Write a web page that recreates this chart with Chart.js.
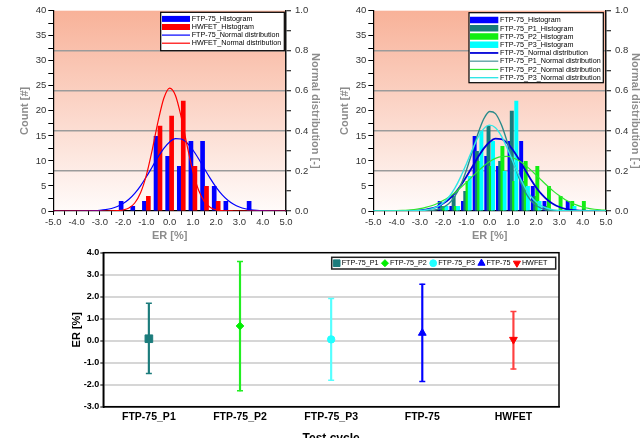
<!DOCTYPE html>
<html>
<head>
<meta charset="utf-8">
<script src="https://cdn.jsdelivr.net/npm/chart.js@4.4.1/dist/chart.umd.min.js"></script>
<style>
html,body{margin:0;padding:0;background:#fff;width:644px;height:438px;overflow:hidden;}
canvas{position:absolute;display:block;}
</style>
</head>
<body>
<canvas id="c1" width="322" height="243" style="left:0;top:0"></canvas>
<canvas id="c2" width="322" height="243" style="left:320px;top:0"></canvas>
<canvas id="c3" width="644" height="206" style="left:0;top:240px"></canvas>
<script>
Chart.defaults.font.family = '"Liberation Sans", Arial, Helvetica, sans-serif';

// ---------------- DATA ----------------
// Histogram bins (ER [%])
const binCenters   = [-2.0, -1.5, -1.0, -0.5, 0.0, 0.5, 1.0, 1.5, 2.0, 2.5, 3.0, 3.5, 4.0];
const countFTP75   = [2, 1, 2, 15, 11, 9, 14, 14, 5, 2, 0, 2, 0];
const countHWFET   = [0, 0, 3, 17, 19, 22, 9, 5, 2, 0, 0, 0, 0];
const countFTP75P1 = [1, 3, 4, 12, 17, 10, 20, 6, 3, 1, 0, 0, 0];
const countFTP75P2 = [1, 1, 6, 10, 9, 13, 6, 10, 9, 5, 3, 2, 2];
const countFTP75P3 = [1, 1, 7, 16, 14, 8, 22, 5, 2, 0, 0, 1, 0];

// Normal distribution curves at ER steps of 0.25
const pdfX = [-5, -4.75, -4.5, -4.25, -4, -3.75, -3.5, -3.25, -3, -2.75, -2.5, -2.25, -2, -1.75, -1.5, -1.25, -1, -0.75, -0.5, -0.25,
              0, 0.25, 0.5, 0.75, 1, 1.25, 1.5, 1.75, 2, 2.25, 2.5, 2.75, 3, 3.25, 3.5, 3.75, 4, 4.25, 4.5, 4.75, 5];
const pdfFTP75 = [0, 0, 0, 0.0001, 0.0001, 0.0003, 0.0008, 0.0017, 0.0035, 0.0068, 0.0126, 0.0222, 0.0370, 0.0587, 0.0882, 0.1259, 0.1708, 0.2200, 0.2691, 0.3126,
                  0.3448, 0.3612, 0.3593, 0.3395, 0.3046, 0.2595, 0.2100, 0.1614, 0.1178, 0.0816, 0.0537, 0.0336, 0.0199, 0.0112, 0.0060, 0.0031, 0.0015, 0.0007, 0.0003, 0.0001, 0];
const pdfHWFET = [0, 0, 0, 0, 0, 0, 0, 0, 0, 0.0001, 0.0003, 0.0014, 0.0049, 0.0151, 0.0399, 0.0910, 0.1792, 0.3043, 0.4457, 0.5630,
                  0.6135, 0.5765, 0.4673, 0.3267, 0.1970, 0.1024, 0.0459, 0.0178, 0.0059, 0.0017, 0.0004, 0.0001, 0, 0, 0, 0, 0, 0, 0, 0, 0];
const pdfP1    = [0, 0, 0, 0, 0, 0, 0, 0.0001, 0.0003, 0.0010, 0.0029, 0.0074, 0.0175, 0.0375, 0.0727, 0.1279, 0.2039, 0.2949, 0.3869, 0.4604,
                  0.4968, 0.4862, 0.4316, 0.3475, 0.2537, 0.1681, 0.1009, 0.0550, 0.0272, 0.0122, 0.0049, 0.0018, 0.0006, 0.0002, 0.0001, 0, 0, 0, 0, 0, 0];
const pdfP2    = [0.0001, 0.0003, 0.0005, 0.0010, 0.0017, 0.0028, 0.0047, 0.0076, 0.0118, 0.0179, 0.0263, 0.0375, 0.0520, 0.0700, 0.0914, 0.1161, 0.1431, 0.1714, 0.1992, 0.2250,
                  0.2467, 0.2626, 0.2716, 0.2727, 0.2659, 0.2518, 0.2315, 0.2068, 0.1793, 0.1510, 0.1235, 0.0981, 0.0756, 0.0566, 0.0412, 0.0291, 0.0200, 0.0133, 0.0086, 0.0054, 0.0033];
const pdfP3    = [0, 0, 0, 0, 0, 0.0001, 0.0003, 0.0009, 0.0022, 0.0051, 0.0109, 0.0218, 0.0405, 0.0701, 0.1128, 0.1689, 0.2351, 0.3045, 0.3669, 0.4113,
                  0.4289, 0.4161, 0.3755, 0.3153, 0.2462, 0.1789, 0.1209, 0.0761, 0.0445, 0.0242, 0.0123, 0.0058, 0.0025, 0.0010, 0.0004, 0.0001, 0, 0, 0, 0, 0];

// Error-bar chart
const cycles = ['FTP-75_P1', 'FTP-75_P2', 'FTP-75_P3', 'FTP-75', 'HWFET'];
const erMean = [0.09, 0.67, 0.06, 0.35, 0.05];
const erLow  = [-1.49, -2.28, -1.80, -1.86, -1.29];
const erHigh = [1.70, 3.60, 1.92, 2.57, 1.33];

// ---------------- STYLE ----------------
const C_BLUE = '#0000ff', C_RED = '#ff0000', C_TEAL = '#177a7a', C_GREEN = '#11ee11', C_CYAN = '#00ffff';
const GRAD_TOP = '#f8b299', GRAD_BOTTOM = '#fffbfa';
const TITLE_GRAY = '#8c8c8c';

function pts(xs, ys) { return xs.map((x, i) => ({x: x, y: ys[i]})); }

// ---------------- PLUGINS ----------------
const bgGrad = {
  id: 'bgGrad',
  beforeDraw(chart) {
    if (!chart.$grad) return;
    const {ctx, chartArea: a} = chart;
    const g = ctx.createLinearGradient(0, a.top, 0, a.bottom);
    g.addColorStop(0, GRAD_TOP);
    g.addColorStop(1, GRAD_BOTTOM);
    ctx.save();
    ctx.fillStyle = g;
    ctx.fillRect(a.left, a.top, a.right - a.left, a.bottom - a.top);
    ctx.restore();
  }
};
// draw datasets in index order (later datasets on top)
const forwardDraw = {
  id: 'forwardDraw',
  beforeDatasetsDraw(chart) {
    const metas = chart.getSortedVisibleDatasetMetas();
    for (const m of metas) {
      if (chart._drawDataset) chart._drawDataset(m); else m.controller.draw();
    }
    return false;
  }
};
function makeBoxLegend(g) {
  return {
    id: 'boxLegend',
    afterDraw(chart) {
      const ctx = chart.ctx;
      ctx.save();
      ctx.fillStyle = '#fff';
      ctx.fillRect(g.x, g.y, g.w, g.h);
      ctx.strokeStyle = '#000';
      ctx.lineWidth = 1.2;
      ctx.strokeRect(g.x, g.y, g.w, g.h);
      ctx.font = g.font + 'px ' + Chart.defaults.font.family;
      ctx.textBaseline = 'middle';
      ctx.textAlign = 'left';
      chart.data.datasets.forEach((ds, i) => {
        const cy = g.rowY + i * g.rowStep;
        if (ds.type === 'bar') {
          ctx.fillStyle = ds.backgroundColor;
          ctx.fillRect(g.swX, cy - g.barH / 2, g.swW, g.barH);
        } else {
          ctx.strokeStyle = ds.legendColor || ds.borderColor;
          ctx.lineWidth = ds.borderWidth;
          ctx.beginPath();
          ctx.moveTo(g.swX, cy);
          ctx.lineTo(g.swX + g.swW, cy);
          ctx.stroke();
        }
        ctx.fillStyle = '#000';
        ctx.fillText(ds.label, g.textX, cy + 0.3);
      });
      ctx.restore();
    }
  };
}

// ---------------- HISTOGRAM CHARTS ----------------
function histOptions() {
  return {
    responsive: false,
    animation: false,
    layout: {padding: {left: 0, right: 0, top: 10.7, bottom: 0}},
    plugins: {legend: {display: false}, tooltip: {enabled: false}},
    scales: {
      x: {
        type: 'linear', min: -5, max: 5, offset: false,
        grid: {offset: false, drawOnChartArea: false, tickLength: 4, tickColor: '#000', tickWidth: 1},
        border: {color: '#000', width: 1.2},
        ticks: {stepSize: 0.5, autoSkip: false, maxRotation: 0, minRotation: 0, padding: 2, color: '#333', font: {size: 9.5},
          callback: (v) => Number.isInteger(v) ? v.toFixed(1) : ''},
        title: {display: true, text: 'ER [%]', color: TITLE_GRAY, font: {size: 11, weight: 'bold'}, padding: {top: 0, bottom: 0}},
        afterFit: (s) => { s.height = 32; }
      },
      y: {
        position: 'left', min: 0, max: 40,
        grid: {drawOnChartArea: false, tickLength: 5, tickColor: '#000', tickWidth: 1},
        border: {color: '#000', width: 1.2},
        ticks: {stepSize: 2.5, autoSkip: false, padding: 2, color: '#333', font: {size: 9.5},
          callback: (v) => (v % 5 === 0) ? String(v) : ''},
        title: {display: true, text: 'Count [#]', color: TITLE_GRAY, font: {size: 11, weight: 'bold'}, padding: {top: 18.4, bottom: 0}},
        afterFit: (s) => { s.width = 53.3; }
      },
      y2: {
        position: 'right', min: 0, max: 1,
        grid: {
          drawOnChartArea: true, lineWidth: 1.5, tickLength: 5, tickColor: '#000', tickWidth: 1,
          color: (c) => {
            if (!c.tick) return 'rgba(0,0,0,0)';
            const k = Math.round(c.tick.value * 10);
            return (k % 2 === 0 && k > 0 && k < 10) ? '#9b9b9b' : 'rgba(0,0,0,0)';
          }
        },
        border: {color: '#111', width: 1.5},
        ticks: {stepSize: 0.1, autoSkip: false, padding: 4, color: '#333', font: {size: 9.5},
          callback: (v) => (Math.round(v * 10) % 2 === 0) ? v.toFixed(1) : ''},
        title: {display: true, text: 'Normal distribution [-]', color: TITLE_GRAY, font: {size: 11, weight: 'bold'}, padding: {top: 0, bottom: 0}},
        afterFit: (s) => { s.width = 36; }
      }
    }
  };
}
function barDs(label, counts, color, catPct, barPct) {
  return {type: 'bar', label: label, data: pts(binCenters, counts), backgroundColor: color, yAxisID: 'y',
          categoryPercentage: catPct, barPercentage: barPct, borderWidth: 0};
}
function lineDs(label, ys, color, width, legendColor) {
  return {type: 'line', label: label, data: pts(pdfX, ys), borderColor: color, legendColor: legendColor, borderWidth: width,
          yAxisID: 'y2', pointRadius: 0, fill: false, cubicInterpolationMode: 'monotone'};
}

const ch1 = new Chart(document.getElementById('c1'), {
  type: 'bar',
  data: {datasets: [
    barDs('FTP-75_Histogram', countFTP75, C_BLUE, 0.68, 1.18),
    barDs('HWFET_Histogram', countHWFET, C_RED, 0.68, 1.18),
    lineDs('FTP-75_Normal distribution', pdfFTP75, C_BLUE, 1.2),
    lineDs('HWFET_Normal distribution', pdfHWFET, C_RED, 1.2)
  ]},
  options: histOptions(),
  plugins: [
    {id: 'gradOn', beforeInit(c) { c.$grad = true; }},
    bgGrad, forwardDraw,
    makeBoxLegend({x: 160.7, y: 12.3, w: 123.6, h: 38.4, swX: 162, swW: 28, textX: 191.7, rowY: 18.9, rowStep: 8.1, barH: 6, font: 7.2})
  ]
});

const ch2 = new Chart(document.getElementById('c2'), {
  type: 'bar',
  data: {datasets: [
    barDs('FTP-75_Histogram', countFTP75, C_BLUE, 0.774, 1.75),
    barDs('FTP-75_P1_Histogram', countFTP75P1, C_TEAL, 0.774, 1.75),
    barDs('FTP-75_P2_Histogram', countFTP75P2, C_GREEN, 0.774, 1.75),
    barDs('FTP-75_P3_Histogram', countFTP75P3, C_CYAN, 0.774, 1.75),
    lineDs('FTP-75_Normal distribution', pdfFTP75, '#0000d8', 1.8),
    lineDs('FTP-75_P1_Normal distribution', pdfP1, '#2a8a8a', 1.4, '#5fa3a3'),
    lineDs('FTP-75_P2_Normal distribution', pdfP2, '#2ee62e', 1.2),
    lineDs('FTP-75_P3_Normal distribution', pdfP3, '#30e6e6', 1.4)
  ]},
  options: histOptions(),
  plugins: [
    {id: 'gradOn', beforeInit(c) { c.$grad = true; }},
    bgGrad, forwardDraw,
    makeBoxLegend({x: 149, y: 12.7, w: 134.3, h: 70, swX: 150, swW: 28.3, textX: 180, rowY: 20, rowStep: 8.24, barH: 6.5, font: 7.2})
  ]
});

// ---------------- ERROR BAR CHART ----------------
const erLineColors   = ['#1c7c7c', '#22ee22', '#55ffff', '#0000ff', '#ff4040'];
const erMarkColors   = ['#1c7c7c', '#00ee00', '#22ffff', '#0000ff', '#ff0000'];
const erMarkStyles   = ['rect', 'rectRot', 'circle', 'triangle', 'triangle'];
const erMarkRotation = [0, 0, 0, 0, 180];
const erMarkRadius   = [5.4, 3.8, 3.7, 4.5, 4.5];
const legRadius      = [4.7, 3.5, 3.4, 4.1, 4.1];

const frame3 = {
  id: 'frame3',
  afterDraw(chart) {
    const {ctx, chartArea: a} = chart;
    ctx.save();
    ctx.strokeStyle = '#000';
    ctx.lineWidth = 1.5;
    ctx.strokeRect(a.left, a.top, a.right - a.left, a.bottom - a.top);
    ctx.restore();
  }
};
const markerLegend = {
  id: 'markerLegend',
  afterDraw(chart) {
    const ctx = chart.ctx;
    const box = {x: 331.7, y: 17.3, w: 224, h: 11.7};
    const cy = 23.2;
    ctx.save();
    ctx.fillStyle = '#fff';
    ctx.fillRect(box.x, box.y, box.w, box.h);
    ctx.strokeStyle = '#222';
    ctx.lineWidth = 1.5;
    ctx.strokeRect(box.x, box.y, box.w, box.h);
    ctx.font = '7.2px ' + Chart.defaults.font.family;
    ctx.textBaseline = 'middle';
    ctx.textAlign = 'left';
    let cx = 336.7;
    chart.data.labels.forEach((lab, i) => {
      ctx.fillStyle = erMarkColors[i];
      ctx.strokeStyle = erMarkColors[i];
      ctx.lineWidth = 1;
      Chart.helpers.drawPoint(ctx, {pointStyle: erMarkStyles[i], rotation: erMarkRotation[i], radius: legRadius[i], borderWidth: 1}, cx, cy);
      ctx.fillStyle = '#000';
      const tx = cx + 5;
      ctx.fillText(lab, tx, cy + 0.3);
      cx = tx + ctx.measureText(lab).width + 6.5;
    });
    ctx.restore();
  }
};

const ch3 = new Chart(document.getElementById('c3'), {
  type: 'bar',
  data: {
    labels: cycles,
    datasets: [
      {type: 'bar', data: erLow.map((l, i) => [l, erHigh[i]]), backgroundColor: erLineColors, barThickness: 1.5, grouped: false, borderWidth: 0},
      {type: 'line', data: erHigh, showLine: false, pointStyle: 'line', pointRadius: 3, pointBorderColor: erLineColors, pointBorderWidth: 1.5, borderColor: erLineColors},
      {type: 'line', data: erLow, showLine: false, pointStyle: 'line', pointRadius: 3, pointBorderColor: erLineColors, pointBorderWidth: 1.5, borderColor: erLineColors},
      {type: 'line', data: erMean, showLine: false, pointStyle: erMarkStyles, pointRotation: erMarkRotation, pointRadius: erMarkRadius,
       pointBackgroundColor: erMarkColors, pointBorderColor: erMarkColors, pointBorderWidth: 1}
    ]
  },
  options: {
    responsive: false,
    animation: false,
    layout: {padding: {left: 0, right: 85, top: 12.7, bottom: 0}},
    plugins: {legend: {display: false}, tooltip: {enabled: false}},
    scales: {
      x: {
        type: 'category',
        grid: {display: false, drawTicks: false},
        border: {color: '#000', width: 1.5},
        ticks: {padding: 3.7, color: '#000', font: {size: 10.5, weight: 'bold'}, maxRotation: 0, autoSkip: false},
        title: {display: true, text: 'Test cycle', color: '#000', font: {size: 12, weight: 'bold'}, padding: {top: 0, bottom: 0}},
        afterFit: (s) => { s.height = 39.3; }
      },
      y: {
        min: -3, max: 4,
        grid: {
          lineWidth: 2, tickLength: 3, tickColor: '#000', tickWidth: 1,
          color: (c) => (c.tick && c.tick.value > -3 && c.tick.value < 4) ? '#d6d6d6' : 'rgba(0,0,0,0)'
        },
        border: {color: '#000', width: 1.5},
        ticks: {stepSize: 1, padding: 1, color: '#000', font: {size: 9, weight: 'bold'}, callback: (v) => v.toFixed(1)},
        title: {display: true, text: 'ER [%]', color: '#000', font: {size: 11, weight: 'bold'}, padding: {top: 70.1, bottom: 0}},
        afterFit: (s) => { s.width = 103.3; }
      }
    }
  },
  plugins: [forwardDraw, frame3, markerLegend]
});
</script>
</body>
</html>
